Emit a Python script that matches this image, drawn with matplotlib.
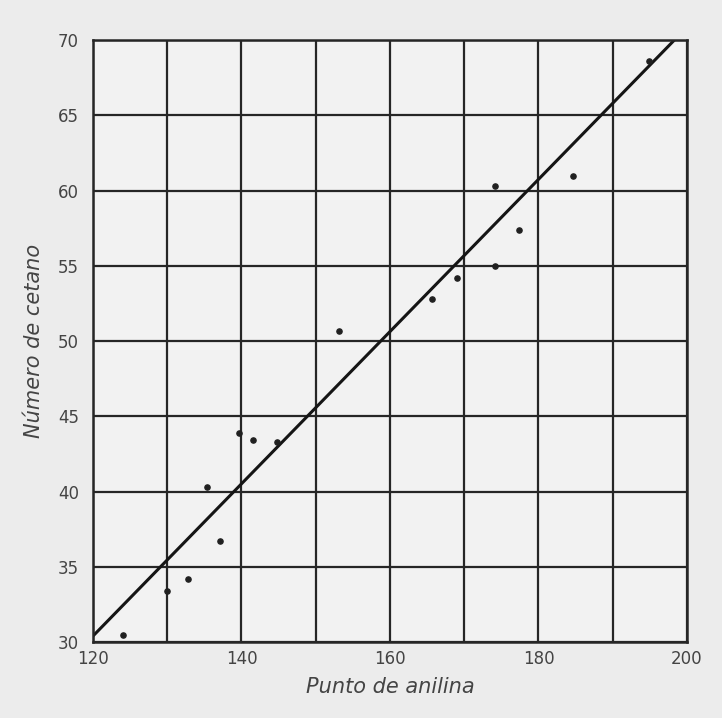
import matplotlib.pyplot as plt
from matplotlib.ticker import MultipleLocator

# aniline point vs cetane number
punto_anilina = [124.0, 130.0, 132.8, 137.1, 135.3, 139.7, 141.6, 144.8,
                 153.2, 165.6, 169.0, 174.2, 177.4, 174.2, 184.6, 194.9]
numero_cetano = [30.5, 33.4, 34.2, 36.7, 40.3, 43.9, 43.4, 43.3,
                 50.7, 52.8, 54.2, 55.0, 57.4, 60.3, 61.0, 68.6]

# fitted line end points
linea_x = [120, 198.3]
linea_y = [30.4, 70.0]

x_ticks = [120, 140, 160, 180, 200]
y_ticks = [30, 35, 40, 45, 50, 55, 60, 65, 70]

ink = "#262626"

fig = plt.figure(figsize=(7.22, 7.18), dpi=100, facecolor="#ececec")
ax = fig.add_axes([0.1288, 0.1058, 0.8227, 0.8384])
ax.set_facecolor("#f2f2f2")

ax.set_xlim(120, 200)
ax.set_ylim(30, 70)

# grid every 10 on x, every 5 on y
ax.xaxis.set_major_locator(MultipleLocator(20))
ax.xaxis.set_minor_locator(MultipleLocator(10))
ax.set_yticks(y_ticks)
ax.grid(True, which="both", color=ink, linewidth=1.6)
ax.set_axisbelow(True)

ax.plot(linea_x, linea_y, color="#151515", linewidth=2.2, solid_capstyle="butt")
ax.scatter(punto_anilina, numero_cetano, s=14, color="#202020", zorder=3)

for sp in ax.spines.values():
    sp.set_color(ink)
    sp.set_linewidth(1.8)

ax.tick_params(which="both", length=0, colors="#444444", labelsize=12)
ax.tick_params(axis="x", pad=6)
ax.tick_params(axis="y", pad=10)
ax.set_xticks(x_ticks)
ax.set_xticklabels([str(v) for v in x_ticks])

ax.set_xlabel("Punto de anilina", fontsize=15, style="italic",
              color="#444444", labelpad=6)
ax.set_ylabel("Número de cetano", fontsize=15, style="italic",
              color="#444444", labelpad=10)

fig.savefig("out.png", dpi=100, facecolor=fig.get_facecolor())
